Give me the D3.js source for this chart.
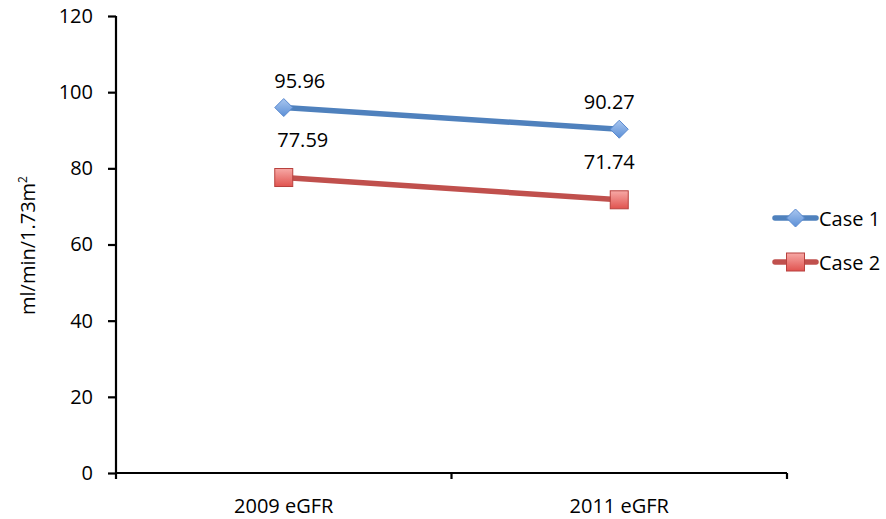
<!DOCTYPE html>
<html><head><meta charset="utf-8">
<script src="https://cdn.jsdelivr.net/npm/d3@7"></script>
<style>body{margin:0;background:#fff}svg{display:block}text{font-family:"Open Sans",sans-serif}</style>
</head><body><svg id="c" width="886" height="519"></svg>
<script>
const categories = ["2009 eGFR", "2011 eGFR"];
const seriesNames = ["Case 1", "Case 2"];
const case1 = [95.96, 90.27];
const case2 = [77.59, 71.74];
const yTicks = [0, 20, 40, 60, 80, 100, 120];

const svg = d3.select("#c");
const m = {l:116, r:99, t:16, b:46};
const W = 886, H = 519;
const x = d3.scaleBand().domain(categories).range([m.l, W - m.r]);
const y = d3.scaleLinear().domain([0, 120]).range([H - m.b, m.t]);

// axes
const ya = svg.append("g").attr("transform", `translate(${m.l},0)`)
  .call(d3.axisLeft(y).tickValues(yTicks).tickSize(8).tickPadding(15));
const xa = svg.append("g").attr("transform", `translate(0,${H - m.b})`)
  .call(d3.axisBottom(x).tickSize(0).tickPadding(26));
[ya, xa].forEach(g => {
  g.select(".domain").attr("stroke", "#000").attr("stroke-width", 2.2);
  g.selectAll(".tick line").attr("stroke", "#000").attr("stroke-width", 2.2);
  g.selectAll("text").attr("fill", "#000").style("font-size", "20px");
});
ya.select(".domain").attr("d", `M0,${m.t}V${H - m.b}`);
xa.select(".domain").attr("d", `M${m.l},0H${W - m.r}`);
// category boundary ticks
const bounds = [m.l, ...categories.map(c => x(c) + x.bandwidth())];
xa.selectAll(".bt").data(bounds).enter().append("line")
  .attr("x1", d => d).attr("x2", d => d).attr("y1", 0).attr("y2", 6)
  .attr("stroke", "#000").attr("stroke-width", 2.2);

// y title
svg.append("text").attr("transform", `translate(35,${(m.t + H - m.b) / 2 + 1}) rotate(-90)`)
  .attr("text-anchor", "middle").style("font-size", "20px")
  .html('ml/min/1.73m<tspan dy="-8" style="font-size:12px">2</tspan>');

const defs = svg.append("defs");
function grad(id, c0, c1) {
  const g = defs.append("linearGradient").attr("id", id).attr("x1", 0).attr("y1", 0).attr("x2", 0).attr("y2", 1);
  g.append("stop").attr("offset", "0%").attr("stop-color", c0);
  g.append("stop").attr("offset", "100%").attr("stop-color", c1);
}
grad("gb", "#a9c6ef", "#5b8fd6");
grad("gr", "#f7a9a6", "#e0534f");

const cx = c => x(c) + x.bandwidth() / 2;
const series = [
  {name: seriesNames[0], vals: case1, color: "#4F81BD", fill: "url(#gb)", stroke: "#5a8ad0", shape: "diamond", lab: 20, ldx: [16, -10]},
  {name: seriesNames[1], vals: case2, color: "#C0504D", fill: "url(#gr)", stroke: "#b8413e", shape: "square", lab: 31, ldx: [19, -10]}
];
const line = d3.line().x((d, i) => cx(categories[i])).y(d => y(d));

function marker(g, s, px, py) {
  if (s.shape === "diamond") {
    g.append("path").attr("d", `M${px},${py-9}L${px+9},${py}L${px},${py+9}L${px-9},${py}Z`)
      .attr("fill", s.fill).attr("stroke", s.stroke).attr("stroke-width", 1);
  } else {
    g.append("rect").attr("x", px - 9).attr("y", py - 9).attr("width", 18).attr("height", 18)
      .attr("fill", s.fill).attr("stroke", s.stroke).attr("stroke-width", 1);
  }
}

series.forEach((s, si) => {
  const g = svg.append("g");
  g.append("path").datum(s.vals).attr("d", line).attr("fill", "none")
    .attr("stroke", s.color).attr("stroke-width", 5.5).attr("stroke-linecap", "round");
  s.vals.forEach((v, i) => {
    marker(g, s, cx(categories[i]), y(v));
    g.append("text").attr("x", cx(categories[i]) + s.ldx[i]).attr("y", y(v) - s.lab)
      .attr("text-anchor", "middle").style("font-size", "20px").text(v.toFixed(2));
  });
  // legend
  const ly = 218 + si * 44;
  const lg = svg.append("g");
  lg.append("line").attr("x1", 775).attr("x2", 816).attr("y1", ly).attr("y2", ly)
    .attr("stroke", s.color).attr("stroke-width", 5.5).attr("stroke-linecap", "round");
  marker(lg, s, 795.5, ly);
  lg.append("text").attr("x", 819).attr("y", ly + 8).style("font-size", "20px").text(s.name);
});
</script></body></html>
